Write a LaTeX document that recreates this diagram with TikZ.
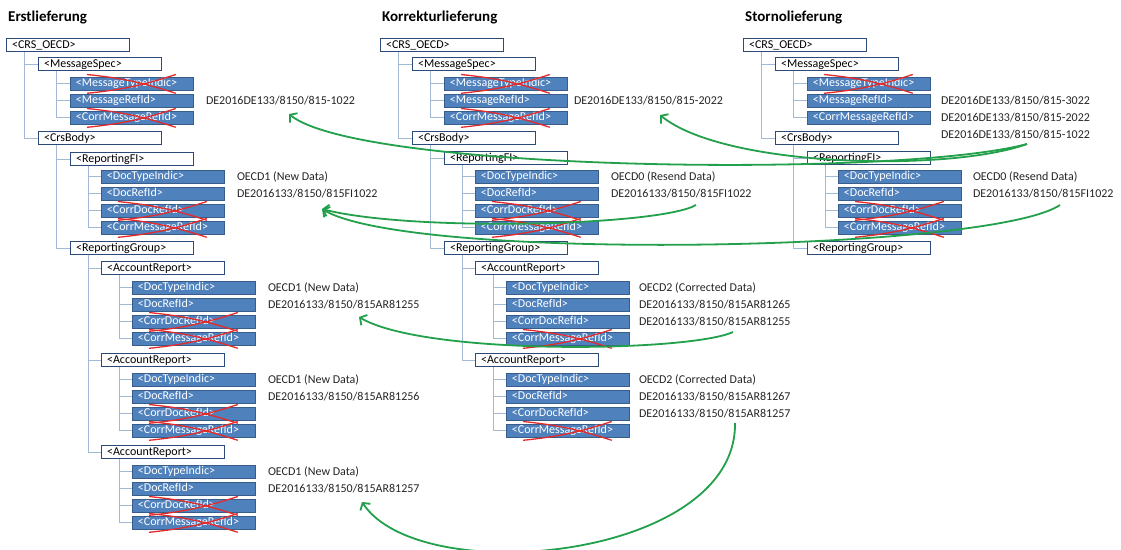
\documentclass[tikz,border=0pt]{standalone}
\usepackage{fontspec}
\setmainfont{Carlito}
\usetikzlibrary{arrows.meta}
\definecolor{boxblue}{HTML}{4F81BD}
\definecolor{boxedge}{HTML}{385D8A}
\definecolor{navy}{HTML}{2C4A78}
\definecolor{treeline}{HTML}{A3B8D4}
\definecolor{strikered}{HTML}{E52A2A}
\definecolor{linkgreen}{HTML}{22A04B}
\definecolor{inktext}{HTML}{262626}

% tree branches from a parent element to its children
\newcommand\branch[2]{\foreach \c in {#2} {\draw[tree] ([xshift=18pt]#1.south west) |- (\c.west);}}
% red cross over an element that is left out
\newcommand\strikeout[1]{%
  \draw[strike] ([xshift=17pt,yshift=2.5pt]#1.north west) to[bend left=6] ([xshift=-18pt,yshift=-2.5pt]#1.south east);
  \draw[strike] ([xshift=17pt,yshift=-2.5pt]#1.south west) to[bend right=6] ([xshift=-18pt,yshift=2.5pt]#1.north east);}

\begin{document}
\begin{tikzpicture}[x=1pt,y=-1pt,
  elem/.style={anchor=north west, minimum width=123pt, text width=112pt, align=left,
    inner xsep=5.5pt, inner ysep=1.5pt, text height=8pt, text depth=2pt,
    font=\fontsize{12}{13}\selectfont},
  wbox/.style={elem, draw=navy, line width=1.1pt, fill=white, text=black},
  bbox/.style={elem, draw=boxedge, line width=0.8pt, fill=boxblue, text=white},
  side/.style={anchor=west, inner sep=0pt, font=\fontsize{12}{13}\selectfont, text=inktext},
  title/.style={anchor=west, inner sep=0pt, font=\fontsize{15}{16}\selectfont\bfseries, text=black},
  tree/.style={draw=treeline, line width=0.9pt},
  strike/.style={draw=strikered, line width=1.3pt},
  link/.style={draw=linkgreen, line width=1.8pt, -{Straight Barb[length=5pt,width=12pt]}}]

\fill[white] (0,0) rectangle (1121,549);
\useasboundingbox (0,0) rectangle (1121,549);

% ---------------- Erstlieferung ----------------
\node[title] (a-title) at (8,18) {Erstlieferung};
\node[wbox] (a-crs)  at (6,38)  {<CRS\_OECD>};
\node[wbox] (a-ms)   at (38,57) {<MessageSpec>};
\node[bbox] (a-mti)  at (70,77) {<MessageTypeIndic>};
\node[bbox] (a-mri)  at (70,94) {<MessageRefId>};
\node[bbox] (a-cmri) at (70,111) {<CorrMessageRefId>};
\node[wbox] (a-body) at (38,131) {<CrsBody>};
\node[wbox] (a-fi)   at (70,152) {<ReportingFI>};
\node[bbox] (a-fi-dti)  at (101,170) {<DocTypeIndic>};
\node[bbox] (a-fi-dri)  at (101,187) {<DocRefId>};
\node[bbox] (a-fi-cdri) at (101,204) {<CorrDocRefId>};
\node[bbox] (a-fi-cmri) at (101,221) {<CorrMessageRefId>};
\node[wbox] (a-rg)   at (70,241) {<ReportingGroup>};
\node[wbox] (a-ar1)  at (101,261) {<AccountReport>};
\node[bbox] (a-ar1-dti)  at (132,281) {<DocTypeIndic>};
\node[bbox] (a-ar1-dri)  at (132,298) {<DocRefId>};
\node[bbox] (a-ar1-cdri) at (132,315) {<CorrDocRefId>};
\node[bbox] (a-ar1-cmri) at (132,332) {<CorrMessageRefId>};
\node[wbox] (a-ar2)  at (101,353) {<AccountReport>};
\node[bbox] (a-ar2-dti)  at (132,373) {<DocTypeIndic>};
\node[bbox] (a-ar2-dri)  at (132,390) {<DocRefId>};
\node[bbox] (a-ar2-cdri) at (132,407) {<CorrDocRefId>};
\node[bbox] (a-ar2-cmri) at (132,424) {<CorrMessageRefId>};
\node[wbox] (a-ar3)  at (101,445) {<AccountReport>};
\node[bbox] (a-ar3-dti)  at (132,465) {<DocTypeIndic>};
\node[bbox] (a-ar3-dri)  at (132,482) {<DocRefId>};
\node[bbox] (a-ar3-cdri) at (132,499) {<CorrDocRefId>};
\node[bbox] (a-ar3-cmri) at (132,516) {<CorrMessageRefId>};

\branch{a-crs}{a-ms,a-body}
\branch{a-ms}{a-mti,a-mri,a-cmri}
\branch{a-body}{a-fi,a-rg}
\branch{a-fi}{a-fi-dti,a-fi-dri,a-fi-cdri,a-fi-cmri}
\branch{a-rg}{a-ar1,a-ar2,a-ar3}
\branch{a-ar1}{a-ar1-dti,a-ar1-dri,a-ar1-cdri,a-ar1-cmri}
\branch{a-ar2}{a-ar2-dti,a-ar2-dri,a-ar2-cdri,a-ar2-cmri}
\branch{a-ar3}{a-ar3-dti,a-ar3-dri,a-ar3-cdri,a-ar3-cmri}

\node[side] (a-t-msg)  at ([xshift=12pt]a-mri.east) {DE2016DE133/8150/815-1022};
\node[side] (a-t-fi1)  at ([xshift=12pt]a-fi-dti.east) {OECD1 (New Data)};
\node[side] (a-t-fi2)  at ([xshift=12pt]a-fi-dri.east) {DE2016133/8150/815FI1022};
\node[side] (a-t-ar1a) at ([xshift=12pt]a-ar1-dti.east) {OECD1 (New Data)};
\node[side] (a-t-ar1b) at ([xshift=12pt]a-ar1-dri.east) {DE2016133/8150/815AR81255};
\node[side] (a-t-ar2a) at ([xshift=12pt]a-ar2-dti.east) {OECD1 (New Data)};
\node[side] (a-t-ar2b) at ([xshift=12pt]a-ar2-dri.east) {DE2016133/8150/815AR81256};
\node[side] (a-t-ar3a) at ([xshift=12pt]a-ar3-dti.east) {OECD1 (New Data)};
\node[side] (a-t-ar3b) at ([xshift=12pt]a-ar3-dri.east) {DE2016133/8150/815AR81257};

\strikeout{a-mti}\strikeout{a-cmri}
\strikeout{a-fi-cdri}\strikeout{a-fi-cmri}
\strikeout{a-ar1-cdri}\strikeout{a-ar1-cmri}
\strikeout{a-ar2-cdri}\strikeout{a-ar2-cmri}
\strikeout{a-ar3-cdri}\strikeout{a-ar3-cmri}

% ---------------- Korrekturlieferung ----------------
\begin{scope}[xshift=374pt]
\node[title] (b-title) at (8,18) {Korrekturlieferung};
\node[wbox] (b-crs)  at (6,38)  {<CRS\_OECD>};
\node[wbox] (b-ms)   at (38,57) {<MessageSpec>};
\node[bbox] (b-mti)  at (70,77) {<MessageTypeIndic>};
\node[bbox] (b-mri)  at (70,94) {<MessageRefId>};
\node[bbox] (b-cmri) at (70,111) {<CorrMessageRefId>};
\node[wbox] (b-body) at (38,131) {<CrsBody>};
\node[wbox] (b-fi)   at (70,151) {<ReportingFI>};
\node[bbox] (b-fi-dti)  at (101,170) {<DocTypeIndic>};
\node[bbox] (b-fi-dri)  at (101,187) {<DocRefId>};
\node[bbox] (b-fi-cdri) at (101,204) {<CorrDocRefId>};
\node[bbox] (b-fi-cmri) at (101,221) {<CorrMessageRefId>};
\node[wbox] (b-rg)   at (70,241) {<ReportingGroup>};
\node[wbox] (b-ar1)  at (101,261) {<AccountReport>};
\node[bbox] (b-ar1-dti)  at (132,281) {<DocTypeIndic>};
\node[bbox] (b-ar1-dri)  at (132,298) {<DocRefId>};
\node[bbox] (b-ar1-cdri) at (132,315) {<CorrDocRefId>};
\node[bbox] (b-ar1-cmri) at (132,332) {<CorrMessageRefId>};
\node[wbox] (b-ar2)  at (101,353) {<AccountReport>};
\node[bbox] (b-ar2-dti)  at (132,373) {<DocTypeIndic>};
\node[bbox] (b-ar2-dri)  at (132,390) {<DocRefId>};
\node[bbox] (b-ar2-cdri) at (132,407) {<CorrDocRefId>};
\node[bbox] (b-ar2-cmri) at (132,424) {<CorrMessageRefId>};
\end{scope}

\branch{b-crs}{b-ms,b-body}
\branch{b-ms}{b-mti,b-mri,b-cmri}
\branch{b-body}{b-fi,b-rg}
\branch{b-fi}{b-fi-dti,b-fi-dri,b-fi-cdri,b-fi-cmri}
\branch{b-rg}{b-ar1,b-ar2}
\branch{b-ar1}{b-ar1-dti,b-ar1-dri,b-ar1-cdri,b-ar1-cmri}
\branch{b-ar2}{b-ar2-dti,b-ar2-dri,b-ar2-cdri,b-ar2-cmri}

\node[side] (b-t-msg)  at ([xshift=6pt]b-mri.east) {DE2016DE133/8150/815-2022};
\node[side] (b-t-fi1)  at ([xshift=12pt]b-fi-dti.east) {OECD0 (Resend Data)};
\node[side] (b-t-fi2)  at ([xshift=12pt]b-fi-dri.east) {DE2016133/8150/815FI1022};
\node[side] (b-t-ar1a) at ([xshift=9pt]b-ar1-dti.east) {OECD2 (Corrected Data)};
\node[side] (b-t-ar1b) at ([xshift=9pt]b-ar1-dri.east) {DE2016133/8150/815AR81265};
\node[side] (b-t-ar1c) at ([xshift=9pt]b-ar1-cdri.east) {DE2016133/8150/815AR81255};
\node[side] (b-t-ar2a) at ([xshift=9pt]b-ar2-dti.east) {OECD2 (Corrected Data)};
\node[side] (b-t-ar2b) at ([xshift=9pt]b-ar2-dri.east) {DE2016133/8150/815AR81267};
\node[side] (b-t-ar2c) at ([xshift=9pt]b-ar2-cdri.east) {DE2016133/8150/815AR81257};

\strikeout{b-mti}\strikeout{b-cmri}
\strikeout{b-fi-cdri}\strikeout{b-fi-cmri}
\strikeout{b-ar1-cmri}
\strikeout{b-ar2-cmri}

% ---------------- Stornolieferung ----------------
\begin{scope}[xshift=737pt]
\node[title] (c-title) at (8,18) {Stornolieferung};
\node[wbox] (c-crs)  at (6,38)  {<CRS\_OECD>};
\node[wbox] (c-ms)   at (38,57) {<MessageSpec>};
\node[bbox] (c-mti)  at (70,77) {<MessageTypeIndic>};
\node[bbox] (c-mri)  at (70,94) {<MessageRefId>};
\node[bbox] (c-cmri) at (70,111) {<CorrMessageRefId>};
\node[wbox] (c-body) at (38,131) {<CrsBody>};
\node[wbox] (c-fi)   at (70,151) {<ReportingFI>};
\node[bbox] (c-fi-dti)  at (101,170) {<DocTypeIndic>};
\node[bbox] (c-fi-dri)  at (101,187) {<DocRefId>};
\node[bbox] (c-fi-cdri) at (101,204) {<CorrDocRefId>};
\node[bbox] (c-fi-cmri) at (101,221) {<CorrMessageRefId>};
\node[wbox] (c-rg)   at (70,241) {<ReportingGroup>};
\end{scope}

\branch{c-crs}{c-ms,c-body}
\branch{c-ms}{c-mti,c-mri,c-cmri}
\branch{c-body}{c-fi,c-rg}
\branch{c-fi}{c-fi-dti,c-fi-dri,c-fi-cdri,c-fi-cmri}

\node[side] (c-t-msg1) at ([xshift=10pt]c-mri.east) {DE2016DE133/8150/815-3022};
\node[side] (c-t-msg2) at ([xshift=10pt]c-cmri.east) {DE2016DE133/8150/815-2022};
\node[side] (c-t-msg3) at ([yshift=-16.5pt]c-t-msg2.west) {DE2016DE133/8150/815-1022};
\node[side] (c-t-fi1)  at ([xshift=11pt]c-fi-dti.east) {OECD0 (Resend Data)};
\node[side] (c-t-fi2)  at ([xshift=11pt]c-fi-dri.east) {DE2016133/8150/815FI1022};

\strikeout{c-mti}
\strikeout{c-fi-cdri}\strikeout{c-fi-cmri}

% ---------------- references back to earlier deliveries ----------------
\coordinate (c-from-msg) at (1027,144);
\coordinate (c-from-fi)  at (1060,205);
\coordinate (b-from-fi)  at (696,205);
\coordinate (b-from-ar1) at (733,332);
\coordinate (b-from-ar2) at (735,423);
\coordinate (a-to-msg)   at (289,114);
\coordinate (b-to-msg)   at (660,115);
\coordinate (a-to-fi)    at (322,209);
\coordinate (a-to-ar1)   at (359,317);
\coordinate (a-to-ar3)   at (362,502);

\draw[link] (c-from-msg) .. controls (900,178) and (360,172) .. (a-to-msg);
\draw[link] (c-from-msg) .. controls (950,172) and (725,168) .. (b-to-msg);
\draw[link] (b-from-fi) .. controls (660,226) and (410,232) .. (a-to-fi);
\draw[link] (c-from-fi) .. controls (990,252) and (410,262) .. (a-to-fi);
\draw[link] (b-from-ar1) .. controls (690,352) and (425,356) .. (a-to-ar1);
\draw[link] (b-from-ar2) .. controls (737,560) and (420,590) .. (a-to-ar3);

\end{tikzpicture}
\end{document}
